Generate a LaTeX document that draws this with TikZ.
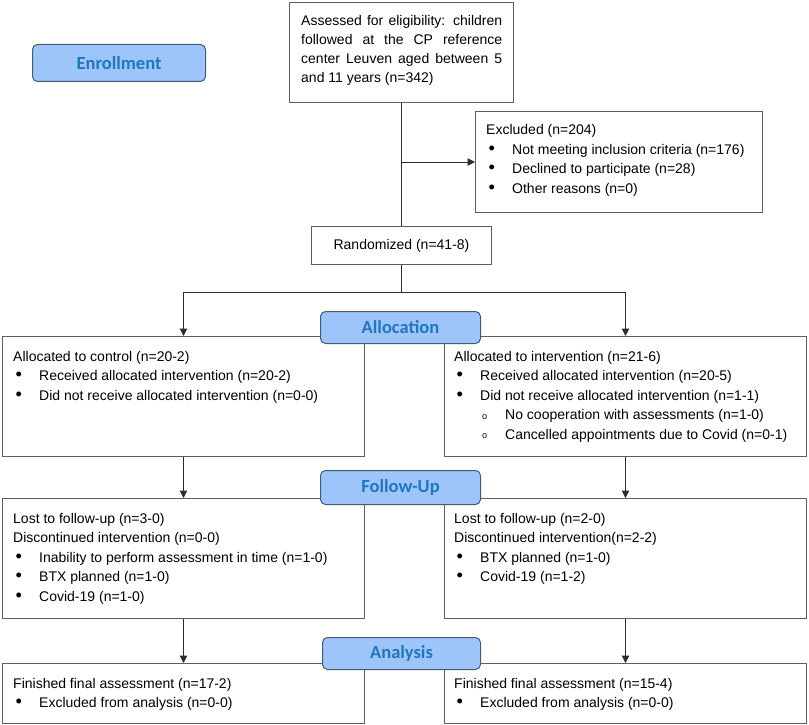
\documentclass[tikz,border=0pt]{standalone}
\usepackage{fontspec}
\setmainfont{Liberation Sans}
\newfontfamily\labfont{Carlito}
\usetikzlibrary{arrows.meta}
\definecolor{labfill}{RGB}{157,197,250}
\definecolor{labtext}{RGB}{34,118,190}
\definecolor{labedge}{RGB}{70,90,115}
\definecolor{boxedge}{RGB}{95,95,95}
\definecolor{lineclr}{RGB}{45,45,45}
\newcommand\bl[1]{\makebox[26pt][l]{\hspace*{2.5pt}\scalebox{1.3}{•}}#1}
\newcommand\sbl[1]{\hspace*{28pt}\makebox[23pt][l]{\raisebox{0.3pt}{\fontsize{9}{9}\selectfont o}}#1}
\tikzset{
  box/.style={draw=boxedge, line width=1pt, inner sep=0pt, anchor=north west, fill=white},
  txt/.style={anchor=base west, inner sep=0pt, font=\fontsize{14}{19.5}\selectfont, text=black},
  phase/.style={draw=labedge, line width=1pt, fill=labfill, rounded corners=5pt, anchor=north west,
     inner sep=0pt, font=\labfont\bfseries\fontsize{18.5}{18.5}\selectfont, text=labtext},
  conn/.style={draw=lineclr, line width=1pt},
  arr/.style={conn, -{Triangle[length=7.5pt,width=7.5pt]}},
}
\begin{document}
\begin{tikzpicture}[x=1pt,y=-1pt]
\fill[white] (0,0) rectangle (809,725);
\useasboundingbox (0,0) rectangle (809,725);
% boxes
\node[box, minimum width=224pt, minimum height=100pt] (assess) at (289,2) {};
\node[box, minimum width=287pt, minimum height=101pt] (excl) at (475,111) {};
\node[box, minimum width=180pt, minimum height=38pt, font=\fontsize{14}{17}\selectfont] (rand) at (311,226) {Randomized (n=41-8)};
\node[box, minimum width=362pt, minimum height=120pt] (ctrl) at (2,336) {};
\node[box, minimum width=362pt, minimum height=120pt] (intv) at (444,336) {};
\node[box, minimum width=362pt, minimum height=120pt] (fuL) at (2,498) {};
\node[box, minimum width=362pt, minimum height=120pt] (fuR) at (444,498) {};
\node[box, minimum width=362pt, minimum height=60pt] (anL) at (2,663) {};
\node[box, minimum width=362pt, minimum height=60pt] (anR) at (444,663) {};
% texts
\node[txt, font=\fontsize{14}{19}\selectfont] (assessT) at ([shift={(12,24)}]assess.north west) {\parbox[t]{201pt}{%
\makebox[201pt][s]{Assessed for eligibility: children}\\
\makebox[201pt][s]{followed at the CP reference}\\
\makebox[201pt][s]{center Leuven aged between 5}\\
and 11 years (n=342)}};
\node[txt] (exclT) at ([shift={(11,24)}]excl.north west) {\parbox[t]{280pt}{\raggedright
Excluded (n=204)\\
\bl{Not meeting inclusion criteria (n=176)}\\
\bl{Declined to participate (n=28)}\\
\bl{Other reasons (n=0)}}};
\node[txt] (ctrlT) at ([shift={(11,25)}]ctrl.north west) {\parbox[t]{350pt}{\raggedright
Allocated to control (n=20-2)\\
\bl{Received allocated intervention (n=20-2)}\\
\bl{Did not receive allocated intervention (n=0-0)}}};
\node[txt] (intvT) at ([shift={(10,25)}]intv.north west) {\parbox[t]{350pt}{\raggedright
Allocated to intervention (n=21-6)\\
\bl{Received allocated intervention (n=20-5)}\\
\bl{Did not receive allocated intervention (n=1-1)}\\
\sbl{No cooperation with assessments (n=1-0)}\\
\sbl{Cancelled appointments due to Covid (n=0-1)}}};
\node[txt] (fuLT) at ([shift={(11,25)}]fuL.north west) {\parbox[t]{350pt}{\raggedright
Lost to follow-up (n=3-0)\\
Discontinued intervention (n=0-0)\\
\bl{Inability to perform assessment in time (n=1-0)}\\
\bl{BTX planned (n=1-0)}\\
\bl{Covid-19 (n=1-0)}}};
\node[txt] (fuRT) at ([shift={(10,25)}]fuR.north west) {\parbox[t]{350pt}{\raggedright
Lost to follow-up (n=2-0)\\
Discontinued intervention(n=2-2)\\
\bl{BTX planned (n=1-0)}\\
\bl{Covid-19 (n=1-2)}}};
\node[txt] (anLT) at ([shift={(11,25)}]anL.north west) {\parbox[t]{350pt}{\raggedright
Finished final assessment (n=17-2)\\
\bl{Excluded from analysis (n=0-0)}}};
\node[txt] (anRT) at ([shift={(10,25)}]anR.north west) {\parbox[t]{350pt}{\raggedright
Finished final assessment (n=15-4)\\
\bl{Excluded from analysis (n=0-0)}}};
% connectors
\coordinate (exj) at (assess.south |- excl.west);
\coordinate (split) at ([yshift=-27pt]rand.south);
\draw[conn] (assess.south) -- (rand.north);
\draw[arr] (exj) -- (excl.west);
\draw[conn] (rand.south) -- (split);
\draw[arr] (split) -| (ctrl.north);
\draw[arr] (split) -| (intv.north);
\draw[arr] (ctrl.south) -- (fuL.north);
\draw[arr] (intv.south) -- (fuR.north);
\draw[arr] (fuL.south) -- (anL.north);
\draw[arr] (fuR.south) -- (anR.north);
% phase labels
\node[phase, minimum width=173pt, minimum height=37pt] (enroll) at (32,44) {Enrollment};
\node[phase, minimum width=160pt, minimum height=32pt] (alloc) at (320,311) {Allocation};
\node[phase, minimum width=160pt, minimum height=34pt] (follow) at (320,470) {Follow-Up};
\node[phase, minimum width=158pt, minimum height=32pt] (analysis) at (322,637) {Analysis};
\end{tikzpicture}
\end{document}
